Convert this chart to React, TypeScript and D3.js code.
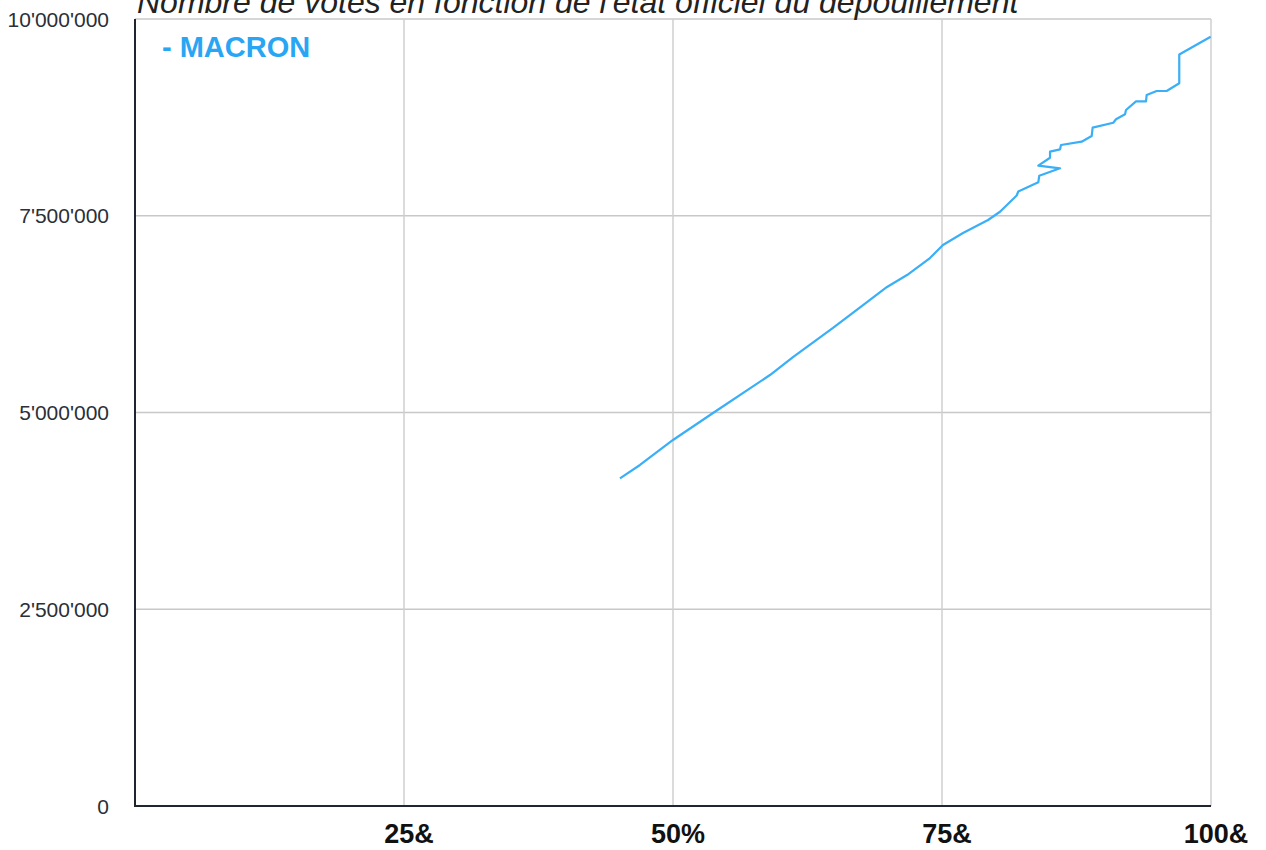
import React from "react";
import * as d3 from "d3";

const title = "Nombre de votes en fonction de l'état officiel du dépouillement";
const seriesName = "- MACRON";
const xTickValues = [25, 50, 75, 100];
const xTickLabels = ["25&", "50%", "75&", "100&"];
const yTickValues = [0, 2500000, 5000000, 7500000, 10000000];
const yTickLabels = ["0", "2'500'000", "5'000'000", "7'500'000", "10'000'000"];

const pctCounted = [
  45.07, 46.93, 50.0, 53.72, 59.01, 61.15, 64.87, 68.03, 69.89, 71.75, 73.88, 75.09,
  76.95, 79.28, 80.39, 81.94, 82.09, 83.95, 84.04, 85.97, 83.95, 85.04, 85.04, 85.97,
  86.06, 87.98, 88.91, 89.0, 90.92, 91.17, 92.01, 92.1, 93.03, 93.96, 94.02, 94.95,
  95.88, 97.05, 97.05, 99.97,
];
const macronVotes = [
  4164000, 4333000, 4651000, 4994000, 5476000, 5705000, 6074000, 6404000, 6595000,
  6747000, 6963000, 7128000, 7281000, 7446000, 7551000, 7757000, 7808000, 7925000,
  8009000, 8103000, 8136000, 8237000, 8314000, 8344000, 8399000, 8441000, 8513000,
  8619000, 8682000, 8726000, 8789000, 8844000, 8954000, 8954000, 9034000, 9085000,
  9085000, 9183000, 9549000, 9775000,
];

const W = 1266;
const H = 850;
const L = 135;
const R = 1211;
const T = 19;
const B = 806;

export default function App() {
  const x = d3.scaleLinear().domain([0, 100]).range([L, R]);
  const y = d3.scaleLinear().domain([0, 10000000]).range([B, T]);
  const pts: [number, number][] = pctCounted.map((p, i) => [p, macronVotes[i]]);
  const line = d3
    .line<[number, number]>()
    .x((d) => x(d[0]))
    .y((d) => y(d[1]));
  const font = "'Liberation Sans', Arial, Helvetica, sans-serif";
  return (
    <svg
      width={W}
      height={H}
      style={{ position: "absolute", left: 0, top: 0, background: "#fff" }}
      fontFamily={font}
    >
      <rect x={0} y={0} width={W} height={H} fill="#fff" />
      {/* grid */}
      {yTickValues.slice(1).map((v) => (
        <line key={"gy" + v} x1={L} x2={R} y1={y(v)} y2={y(v)} stroke="#c8c8c8" strokeWidth={1.5} />
      ))}
      {xTickValues.map((v) => (
        <line key={"gx" + v} x1={x(v)} x2={x(v)} y1={T} y2={B} stroke="#cfcfcf" strokeWidth={1.5} />
      ))}
      {/* axes */}
      <line x1={L} x2={L} y1={T} y2={B + 1} stroke="#1f2630" strokeWidth={2} />
      <line x1={L - 1} x2={R} y1={B} y2={B} stroke="#1f2630" strokeWidth={2} />
      {/* y labels */}
      {yTickValues.map((v, i) => (
        <text
          key={"yl" + v}
          x={109}
          y={y(v)}
          dy="0.36em"
          textAnchor="end"
          fontSize={21}
          fill="#2a2f38"
        >
          {yTickLabels[i]}
        </text>
      ))}
      {/* x labels */}
      {xTickValues.map((v, i) => (
        <text
          key={"xl" + v}
          x={x(v) + 5}
          y={843}
          textAnchor="middle"
          fontSize={27}
          fontWeight="bold"
          fill="#111"
        >
          {xTickLabels[i]}
        </text>
      ))}
      {/* line */}
      <path d={line(pts) || ""} fill="none" stroke="#3aaff7" strokeWidth={2.2} strokeLinejoin="round" />
      {/* legend */}
      <text x={162} y={57} fontSize={29} fontWeight="bold" fill="#29a6f3">
        {seriesName}
      </text>
      {/* title */}
      <text x={137} y={13} fontSize={32} fontStyle="italic" fill="#222">
        {title}
      </text>
    </svg>
  );
}
